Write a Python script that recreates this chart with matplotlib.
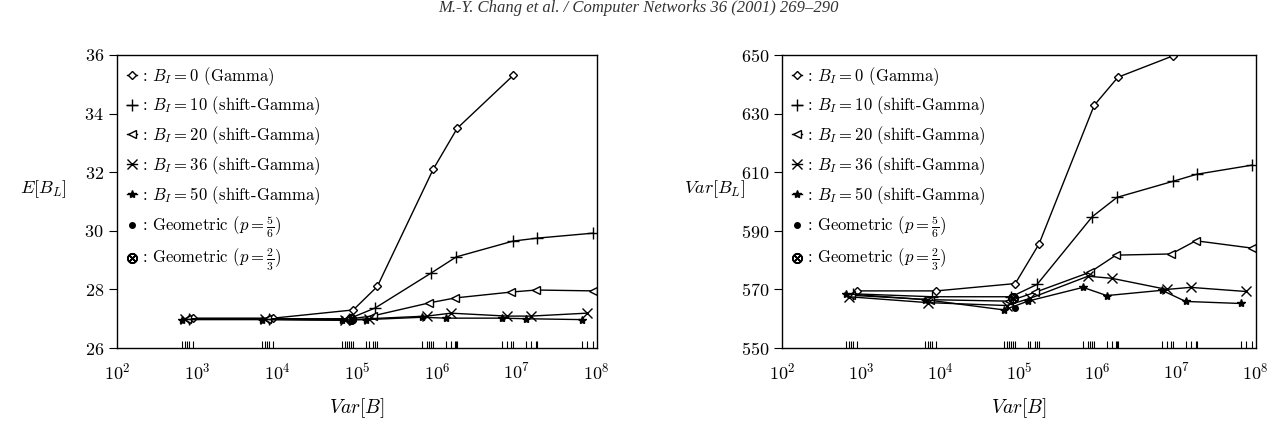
import matplotlib
matplotlib.use("Agg")
import matplotlib.pyplot as plt
from matplotlib.ticker import FixedLocator, NullFormatter

plt.rcParams['font.family'] = 'cmr10'
plt.rcParams['mathtext.fontset'] = 'cm'
plt.rcParams['axes.formatter.use_mathtext'] = True

# x = Var[B] for each source model
x_gamma = [9e2, 9e3, 9e4, 1.8e5, 9e5, 1.8e6, 9e6]
x_b10 = [8e2, 8e3, 8e4, 1.7e5, 8.5e5, 1.75e6, 9e6, 1.8e7, 9e7]
x_b20 = [7.5e2, 7.5e3, 7.5e4, 1.6e5, 8e5, 1.7e6, 8.5e6, 1.75e7, 9e7]
x_b36 = [7e2, 7e3, 7e4, 1.4e5, 7.5e5, 1.5e6, 7.5e6, 1.5e7, 7.5e7]
x_b50 = [6.5e2, 6.5e3, 6.5e4, 1.3e5, 6.5e5, 1.3e6, 6.5e6, 1.3e7, 6.5e7]
x_geo56 = [9e4]
x_geo23 = [8.5e4]

# left panel: E[B_L]
mean_gamma = [27.02, 27.02, 27.3, 28.1, 32.1, 33.5, 35.3]
mean_b10 = [27.0, 27.0, 27.0, 27.37, 28.56, 29.11, 29.65, 29.75, 29.92]
mean_b20 = [27.0, 27.0, 26.98, 27.1, 27.54, 27.71, 27.91, 27.98, 27.95]
mean_b36 = [26.98, 26.98, 26.95, 27.0, 27.09, 27.19, 27.09, 27.09, 27.19]
mean_b50 = [26.97, 26.97, 26.95, 26.97, 27.05, 27.02, 27.02, 27.0, 26.97]
mean_geo56 = [26.97]
mean_geo23 = [27.0]

# right panel: Var[B_L]
var_gamma = [569.5, 569.5, 572, 585.5, 632.8, 642.4, 649.7]
var_b10 = [568.5, 567.5, 567.5, 571.7, 594.8, 601.4, 606.9, 609.3, 612.4]
var_b20 = [568, 566.5, 566, 569, 575.9, 581.7, 582.1, 586.6, 584.1]
var_b36 = [567.5, 565.5, 564.5, 567, 574.5, 573.8, 570, 570.7, 569.3]
var_b50 = [568.5, 566.5, 563, 566, 570.7, 567.9, 569.7, 565.9, 565.2]
var_geo56 = [563.5]
var_geo23 = [567]

labels = [r': $B_I = 0$ (Gamma)',
          r': $B_I = 10$ (shift-Gamma)',
          r': $B_I = 20$ (shift-Gamma)',
          r': $B_I = 36$ (shift-Gamma)',
          r': $B_I = 50$ (shift-Gamma)',
          r': Geometric ($p = \frac{5}{6}$)',
          r': Geometric ($p = \frac{2}{3}$)']

xs = [x_gamma, x_b10, x_b20, x_b36, x_b50, x_geo56, x_geo23]
styles = [dict(marker='D', ms=4, mfc='white'),
          dict(marker='+', ms=9, mew=1.0),
          dict(marker='<', ms=6, mfc='white'),
          dict(marker='x', ms=7, mew=1.0),
          dict(marker='*', ms=6),
          dict(marker='o', ms=4, ls='none'),
          dict(marker='$\\otimes$', ms=7, ls='none')]

all_x = sorted(set(v for xx in xs for v in xx))

fig = plt.figure(figsize=(12.76, 4.26), dpi=100)
fig.text(0.5, 0.999, 'M.-Y. Chang et al. / Computer Networks 36 (2001) 269–290',
         ha='center', va='top', fontsize=12, style='italic',
         family='Liberation Serif', color='#333333')

ax1 = fig.add_axes([0.0917, 0.183, 0.376, 0.688])
ax2 = fig.add_axes([0.613, 0.183, 0.371, 0.688])

panels = [(ax1, [mean_gamma, mean_b10, mean_b20, mean_b36, mean_b50, mean_geo56, mean_geo23],
           (26, 36), range(26, 37, 2), r'$E[B_L]$', 0.052),
          (ax2, [var_gamma, var_b10, var_b20, var_b36, var_b50, var_geo56, var_geo23],
           (550, 650), range(550, 651, 20), r'$Var[B_L]$', 0.584)]

for ax, ys, ylim, yt, ylab, ylx in panels:
    for xx, yy, st, lab in zip(xs, ys, styles, labels):
        kw = dict(color='black', lw=1.0, mec='black')
        kw.update(st)
        ax.plot(xx, yy, label=lab, **kw)
    ax.set_xscale('log')
    ax.set_xlim(1e2, 1e8)
    ax.set_ylim(*ylim)
    ax.set_yticks(list(yt))
    ax.set_xticks([10 ** k for k in range(2, 9)])
    ax.xaxis.set_minor_locator(FixedLocator(all_x))
    ax.xaxis.set_minor_formatter(NullFormatter())
    ax.tick_params(axis='x', which='major', direction='in', length=0, labelsize=13, pad=10)
    ax.tick_params(axis='x', which='minor', direction='in', length=5, width=0.8)
    ax.tick_params(axis='y', which='major', direction='out', length=6, labelsize=13)
    ax.tick_params(axis='y', which='minor', left=False)
    for sp in ax.spines.values():
        sp.set_linewidth(1.0)
    ax.set_xlabel(r'$Var[B]$', fontsize=14, labelpad=10)
    fig.text(ylx, 0.555, ylab, fontsize=13, ha='right', va='center')
    ax.legend(loc='upper left', frameon=False, handlelength=0.6, handletextpad=0.3,
              labelspacing=0.42, fontsize=12, borderaxespad=0.2)

fig.savefig('out.png', dpi=100)
